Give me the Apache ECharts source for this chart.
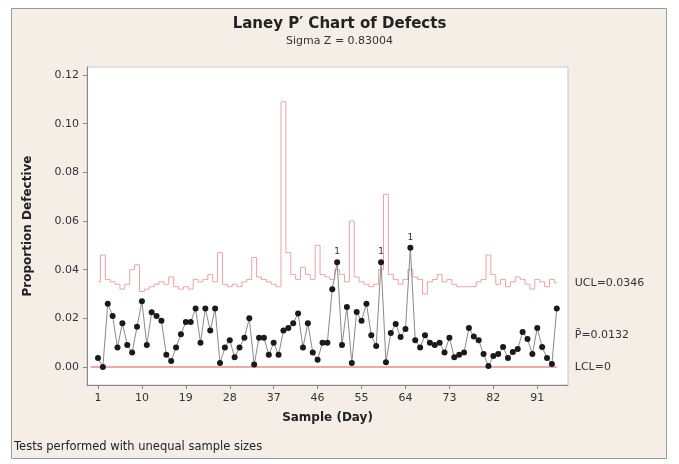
<!DOCTYPE html>
<html>
<head>
<meta charset="utf-8" />
<title>Laney P' Chart of Defects</title>
<script src="https://cdn.jsdelivr.net/npm/echarts@6/dist/echarts.min.js"></script>
<style>
  html, body { margin: 0; padding: 0; background: #fff; }
  #main { width: 679px; height: 464px; }
</style>
</head>
<body>
<div id="main"></div>
<script>
  // proportion defective per sample (day)
  var proportions = [
    0.0037, 0.000, 0.026, 0.021, 0.008, 0.018, 0.009, 0.006, 0.0165, 0.027,
    0.009, 0.0225, 0.021, 0.019, 0.005, 0.0025, 0.008, 0.0135, 0.0185, 0.0185,
    0.024, 0.010, 0.024, 0.015, 0.024, 0.0016, 0.008, 0.011, 0.004, 0.008,
    0.012, 0.020, 0.001, 0.012, 0.012, 0.005, 0.010, 0.005, 0.015, 0.016,
    0.018, 0.022, 0.008, 0.018, 0.006, 0.003, 0.010, 0.010, 0.032, 0.043,
    0.009, 0.0247, 0.0016, 0.0226, 0.019, 0.026, 0.013, 0.0086, 0.043, 0.002,
    0.014, 0.0177, 0.0123, 0.0156, 0.049, 0.011, 0.008, 0.013, 0.010, 0.009,
    0.010, 0.006, 0.012, 0.004, 0.005, 0.006, 0.016, 0.0125, 0.011, 0.0053,
    0.0004, 0.0045, 0.0053, 0.0082, 0.0037, 0.0062, 0.0074, 0.0144, 0.0115, 0.0053,
    0.016, 0.0082, 0.0037, 0.0012, 0.024
  ];
  // upper control limit per sample (unequal sample sizes)
  var ucl = [
    0.035, 0.046, 0.036, 0.035, 0.034, 0.032, 0.034, 0.040, 0.042, 0.031,
    0.032, 0.033, 0.034, 0.035, 0.034, 0.037, 0.033, 0.032, 0.033, 0.032,
    0.036, 0.035, 0.036, 0.038, 0.035, 0.047, 0.034, 0.033, 0.034, 0.033,
    0.035, 0.036, 0.045, 0.037, 0.036, 0.035, 0.034, 0.033, 0.109, 0.047,
    0.038, 0.036, 0.041, 0.038, 0.036, 0.050, 0.038, 0.037, 0.036, 0.040,
    0.038, 0.035, 0.060, 0.037, 0.035, 0.034, 0.033, 0.034, 0.040, 0.071,
    0.038, 0.036, 0.034, 0.036, 0.040, 0.037, 0.036, 0.030, 0.035, 0.036,
    0.038, 0.035, 0.036, 0.034, 0.033, 0.033, 0.033, 0.033, 0.035, 0.036,
    0.046, 0.038, 0.034, 0.036, 0.033, 0.035, 0.037, 0.036, 0.034, 0.032,
    0.036, 0.035, 0.033, 0.036, 0.0346
  ];
  var pBar = 0.0132;
  var lcl = 0;
  var failedSamples = [50, 59, 65];   // test 1 failures
  var xTicks = [1, 10, 19, 28, 37, 46, 55, 64, 73, 82, 91];
  var yTicks = [0, 0.02, 0.04, 0.06, 0.08, 0.10, 0.12];

  var samples = proportions.map(function (v, i) { return i + 1; });
  var first = samples[0], last = samples[samples.length - 1];

  var pointData = proportions.map(function (v, i) {
    var s = samples[i];
    if (failedSamples.indexOf(s) >= 0) {
      return {
        value: [s, v],
        label: { show: true, formatter: '1', position: 'top', distance: 3, fontSize: 9, color: '#333' }
      };
    }
    return [s, v];
  });

  var font = 'DejaVu Sans, Liberation Sans, sans-serif';
  var myChart = echarts.init(document.getElementById('main'));
  var option = {
    backgroundColor: '#fff',
    animation: false,
    textStyle: { fontFamily: font },
    title: {
      text: 'Laney P\u2032 Chart of Defects',
      subtext: 'Sigma Z = 0.83004',
      left: 'center',
      top: 12,
      itemGap: 4,
      textStyle: { fontSize: 15, fontWeight: 'bold', color: '#222', fontFamily: font },
      subtextStyle: { fontSize: 11, color: '#333', fontFamily: font }
    },
    graphic: [
      {
        type: 'rect', z: -10, silent: true,
        shape: { x: 11.5, y: 8.5, width: 655, height: 450 },
        style: { fill: '#f4eee7', stroke: '#9a9a9a', lineWidth: 1 }
      },
      {
        type: 'text', left: 14, top: 441,
        style: { text: 'Tests performed with unequal sample sizes', fontSize: 11.5, fill: '#222', fontFamily: font }
      }
    ],
    grid: {
      left: 87, top: 67, width: 481, height: 318,
      show: true, backgroundColor: '#fff', borderColor: '#c8c8c8', borderWidth: 1
    },
    xAxis: {
      type: 'value',
      min: -1.25, max: 97.3,
      name: 'Sample (Day)',
      nameLocation: 'middle',
      nameGap: 27,
      nameTextStyle: { fontSize: 12, fontWeight: 'bold', color: '#222' },
      axisLine: { show: true, onZero: false, lineStyle: { color: '#888' } },
      axisTick: { show: true, customValues: xTicks, length: 4, lineStyle: { color: '#888' } },
      axisLabel: { customValues: xTicks, fontSize: 11, color: '#333', margin: 8 },
      splitLine: { show: false }
    },
    yAxis: {
      type: 'value',
      min: -0.0074, max: 0.1233,
      name: 'Proportion Defective',
      nameLocation: 'middle',
      nameGap: 53,
      nameTextStyle: { fontSize: 12, fontWeight: 'bold', color: '#222' },
      axisLine: { show: true, onZero: false, lineStyle: { color: '#888' } },
      axisTick: { show: true, customValues: yTicks, length: 4, lineStyle: { color: '#888' } },
      axisLabel: {
        customValues: yTicks, fontSize: 11, color: '#333', margin: 8,
        formatter: function (v) { return v.toFixed(2); }
      },
      splitLine: { show: false }
    },
    series: [
      {
        name: 'UCL', type: 'line', step: 'middle', symbol: 'none', z: 2,
        data: samples.map(function (s, i) { return [s, ucl[i]]; }),
        lineStyle: { color: '#f0a0a0', width: 1 },
        endLabel: { show: true, formatter: 'UCL=0.0346', distance: 18, fontSize: 11, color: '#333' }
      },
      {
        name: 'P', type: 'line', symbol: 'none', silent: true,
        data: [[first, pBar], [last, pBar]],
        lineStyle: { opacity: 0 },
        endLabel: { show: true, formatter: 'P\u0304=0.0132', distance: 18, fontSize: 11, color: '#333' }
      },
      {
        name: 'LCL', type: 'line', symbol: 'none', z: 2,
        data: [[first - 1.5, lcl], [last, lcl]],
        lineStyle: { color: '#e98b8b', width: 1.5 },
        endLabel: { show: true, formatter: 'LCL=0', distance: 18, fontSize: 11, color: '#333' }
      },
      {
        name: 'Proportion', type: 'line', z: 5,
        symbol: 'circle', symbolSize: 6,
        data: pointData,
        itemStyle: { color: '#1a1a1a' },
        lineStyle: { color: '#8a8a8a', width: 1 }
      }
    ]
  };
  myChart.setOption(option);
</script>
</body>
</html>
